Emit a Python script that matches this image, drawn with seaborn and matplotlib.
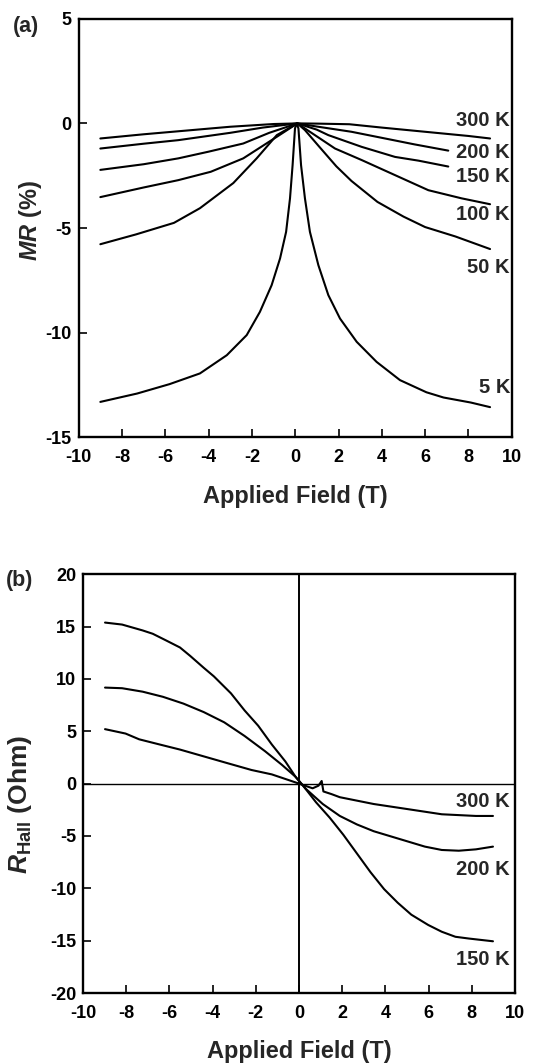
import numpy as np
import pandas as pd
import matplotlib
matplotlib.use("Agg")
import matplotlib.pyplot as plt
import seaborn as sns

# ---------------- data: panel (a) MR (%) vs applied field (T) ----------------
mr_temps = ["300 K", "200 K", "150 K", "100 K", "50 K", "5 K"]

b_300 = [-9.0, -7.0, -5.0, -3.0, -1.0, 0.1, 1.0, 2.5, 4.0, 6.0, 8.0, 9.0]
mr_300 = [-0.72, -0.52, -0.34, -0.16, -0.03, 0.0, -0.01, -0.04, -0.2, -0.4, -0.6, -0.72]

b_200 = [-9.0, -7.0, -5.4, -3.0, -1.5, 0.1, 1.0, 2.6, 4.15, 5.5, 7.07]
mr_200 = [-1.2, -0.97, -0.8, -0.45, -0.2, 0.0, -0.15, -0.4, -0.72, -1.0, -1.3]

b_150 = [-9.0, -7.0, -5.4, -4.0, -2.4, -1.2, 0.1, 1.0, 1.53, 3.07, 4.61, 5.7, 7.07]
mr_150 = [-2.22, -1.95, -1.67, -1.35, -0.96, -0.45, 0.0, -0.3, -0.56, -1.12, -1.6, -1.78, -2.06]

b_100 = [-9.0, -7.0, -5.4, -3.9, -2.4, -0.85, 0.1, 0.91, 1.84, 3.07, 4.61, 6.15, 7.69, 9.0]
mr_100 = [-3.52, -3.06, -2.71, -2.31, -1.67, -0.64, 0.0, -0.56, -1.2, -1.75, -2.47, -3.19, -3.58, -3.86]

b_50 = [-9.0, -7.35, -5.6, -4.4, -2.86, -1.78, -0.85, 0.1, 0.45, 1.1, 1.9, 2.6, 3.8,
        5.0, 6.0, 7.4, 9.0]
mr_50 = [-5.77, -5.3, -4.75, -4.05, -2.85, -1.67, -0.56, 0.0, -0.32, -1.1, -2.05, -2.75, -3.75,
         -4.45, -4.95, -5.4, -6.0]

b_5 = [-9.0, -7.3, -5.8, -4.4, -3.16, -2.24, -1.63, -1.09, -0.7, -0.42, -0.24, -0.12, -0.01,
       0.07, 0.15, 0.27, 0.45, 0.68, 1.07, 1.53, 2.07, 2.84, 3.76, 4.84, 6.06, 6.85, 8.11, 9.0]
mr_5 = [-13.3, -12.9, -12.45, -11.94, -11.07, -10.11, -9.0, -7.73, -6.45, -5.18, -3.58, -1.99, -0.24,
        0.0, -0.24, -1.99, -3.58, -5.18, -6.77, -8.2, -9.32, -10.43, -11.39, -12.26, -12.84, -13.09,
        -13.33, -13.55]

mr_label_x = [9.92, 9.92, 9.92, 9.92, 9.92, 9.92]
mr_label_y = [0.16, -1.38, -2.53, -4.33, -6.87, -12.6]

# ---------------- data: panel (b) R_Hall (Ohm) vs applied field (T) ----------------
hall_temps = ["300 K", "200 K", "150 K"]

bh_150 = [-8.98, -8.19, -7.24, -6.77, -6.14, -5.51, -5.04, -4.41, -3.94, -3.15, -2.52, -1.89,
          -1.26, -0.63, -0.16, 0.24, 0.79, 1.42, 2.05, 2.68, 3.31, 3.94, 4.57, 5.2, 5.98,
          6.61, 7.24, 7.87, 8.98]
rh_150 = [15.38, 15.19, 14.63, 14.31, 13.66, 13.0, 12.2, 11.06, 10.24, 8.62, 6.99, 5.53,
          3.74, 2.11, 0.65, -0.33, -1.79, -3.25, -4.88, -6.67, -8.46, -10.08, -11.38, -12.52, -13.5,
          -14.15, -14.63, -14.8, -15.06]

bh_200 = [-8.98, -8.19, -7.24, -6.3, -5.35, -4.41, -3.46, -2.52, -1.57, -0.79, -0.16, 0.31,
          1.1, 1.89, 2.68, 3.46, 4.25, 5.04, 5.83, 6.61, 7.4, 8.19, 8.98]
rh_200 = [9.17, 9.11, 8.78, 8.29, 7.64, 6.83, 5.85, 4.55, 3.09, 1.79, 0.65, -0.49,
          -1.95, -3.09, -3.9, -4.55, -5.04, -5.53, -6.02, -6.34, -6.41, -6.28, -6.02]

bh_300 = [-8.98, -8.03, -7.4, -6.46, -5.51, -4.41, -3.31, -2.2, -1.26, -0.47, 0.0, 0.63,
          0.9, 1.05, 1.13, 1.35, 1.5, 1.89, 3.46, 5.04, 6.61, 8.19, 8.98]
rh_300 = [5.2, 4.78, 4.23, 3.74, 3.25, 2.6, 1.95, 1.3, 0.88, 0.33, 0.0, -0.45,
          -0.2, 0.25, -0.75, -0.9, -1.0, -1.3, -1.95, -2.44, -2.93, -3.09, -3.09]

hall_label_x = [9.77, 9.77, 9.77]
hall_label_y = [-1.75, -8.24, -16.84]

x_ticks = [-10, -8, -6, -4, -2, 0, 2, 4, 6, 8, 10]
mr_ticks = [-15, -10, -5, 0, 5]
hall_ticks = [-20, -15, -10, -5, 0, 5, 10, 15, 20]

# ---------------- assemble long tables ----------------
mr_df = pd.concat([
    pd.DataFrame({"B": b, "MR": m, "T": t})
    for b, m, t in zip([b_300, b_200, b_150, b_100, b_50, b_5],
                       [mr_300, mr_200, mr_150, mr_100, mr_50, mr_5], mr_temps)
], ignore_index=True)

hall_df = pd.concat([
    pd.DataFrame({"B": b, "R": r, "T": t})
    for b, r, t in zip([bh_300, bh_200, bh_150], [rh_300, rh_200, rh_150], hall_temps)
], ignore_index=True)

# ---------------- style ----------------
sns.set_style("ticks")
plt.rcParams["font.family"] = ["Liberation Sans", "DejaVu Sans"]
plt.rcParams["font.weight"] = "bold"
plt.rcParams["axes.labelweight"] = "bold"
plt.rcParams["axes.unicode_minus"] = False
plt.rcParams["mathtext.fontset"] = "custom"
plt.rcParams["mathtext.it"] = "Liberation Sans:italic:bold"
plt.rcParams["mathtext.rm"] = "Liberation Sans:bold"
plt.rcParams["mathtext.bf"] = "Liberation Sans:bold"

W, H = 535, 1064
fig = plt.figure(figsize=(W / 100, H / 100), dpi=100)
fig.patch.set_facecolor("white")

ax_a = fig.add_axes([78.7 / W, 1 - 437.5 / H, 433 / W, 418.8 / H])
ax_b = fig.add_axes([83.0 / W, 1 - 993.0 / H, 432 / W, 418.8 / H])

line_kw = dict(estimator=None, sort=False, color="black", linewidth=1.5, legend=False)

sns.lineplot(data=mr_df, x="B", y="MR", units="T", ax=ax_a, **line_kw)
ax_b.axhline(0, color="black", linewidth=1.0, zorder=1)
ax_b.axvline(0, color="black", linewidth=1.4, zorder=1)
sns.lineplot(data=hall_df, x="B", y="R", units="T", ax=ax_b, **line_kw)

for t, lx, ly in zip(mr_temps, mr_label_x, mr_label_y):
    ax_a.text(lx, ly, t, ha="right", va="center", fontsize=14.5, fontweight="bold")
for t, lx, ly in zip(hall_temps, hall_label_x, hall_label_y):
    ax_b.text(lx, ly, t, ha="right", va="center", fontsize=14.5, fontweight="bold")

for ax, yt, ylim in [(ax_a, mr_ticks, (-15, 5)), (ax_b, hall_ticks, (-20, 20))]:
    ax.set_xlim(-10, 10)
    ax.set_ylim(*ylim)
    ax.set_xticks(x_ticks)
    ax.set_yticks(yt)
    ax.set_xticklabels([str(v) for v in x_ticks])
    ax.set_yticklabels([str(v) for v in yt])
    ax.tick_params(axis="both", direction="in", length=5.5, width=1.2, labelsize=13,
                   color="black", labelcolor="black")
    ax.tick_params(axis="x", pad=8.5)
    ax.tick_params(axis="y", pad=5)
    for s in ax.spines.values():
        s.set_visible(True)
        s.set_linewidth(1.7)
        s.set_color("black")
    ax.set_xlabel("Applied Field (T)", fontsize=17, fontweight="bold")
    ax.xaxis.set_label_coords(0.5, -0.113)
    ax.set_facecolor("white")

ax_a.set_ylabel(r"$\mathit{MR}$ (%)", fontsize=17, fontweight="bold")
ax_a.yaxis.set_label_coords(-0.08, 0.517)
ax_b.set_ylabel(r"$\mathit{R}_{\mathrm{Hall}}$ (Ohm)", fontsize=19, fontweight="bold")
ax_b.yaxis.set_label_coords(-0.114, 0.451)

fig.text(13 / W, 1 - 16 / H, "(a)", ha="left", va="top", fontsize=15.5, fontweight="bold")
fig.text(6 / W, 1 - 570 / H, "(b)", ha="left", va="top", fontsize=15.5, fontweight="bold")

fig.savefig("out.png", dpi=100, facecolor="white")
